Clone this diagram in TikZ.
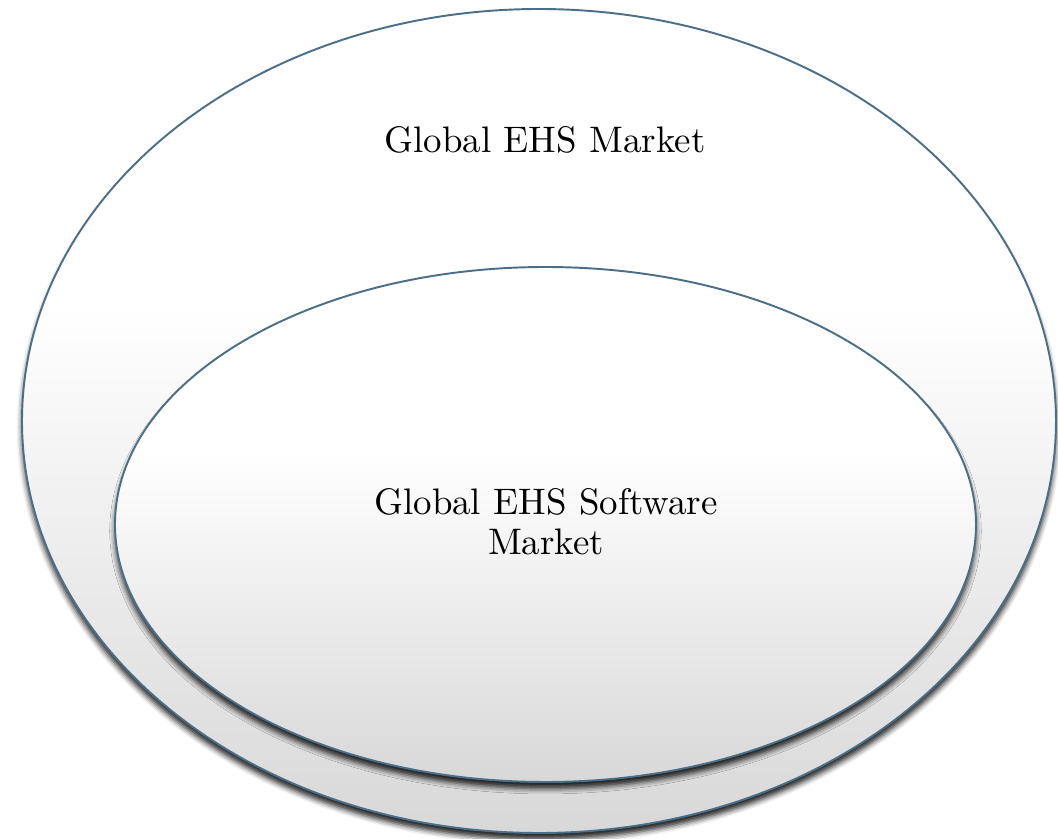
\documentclass[tikz,border=0pt]{standalone}
\usepackage{fontspec}
\usetikzlibrary{shadows.blur}
\definecolor{ehsrand}{RGB}{74,111,135}
\definecolor{ehsgrijs}{RGB}{216,216,216}
\pgfdeclareverticalshading{ehsvul}{100bp}{color(0bp)=(ehsgrijs); color(25bp)=(ehsgrijs); color(57bp)=(white); color(100bp)=(white)}

\begin{document}
\begin{tikzpicture}[line cap=round]
  \tikzset{ellips/.style={draw=ehsrand, line width=0.55pt, shade, shading=ehsvul,
      blur shadow={shadow xshift=0pt, shadow yshift=-1.9pt, shadow blur radius=1.5pt,
        shadow blur extra rounding=0pt, shadow opacity=85}},
    tekst/.style={font=\fontsize{10.5}{11.4}\selectfont, align=center}}
  \useasboundingbox (0,0) rectangle (10.58,8.39);
  % buitenste ellips
  \draw[ellips] (5.39,4.18) ellipse [x radius=5.17, y radius=4.12];
  % binnenste ellips
  \draw[ellips] (5.455,3.145) ellipse [x radius=4.305, y radius=2.575];
  % teksten
  \node[tekst, anchor=base] (markt) at (5.45,6.87) {Global EHS Market};
  \node[tekst] (software) at (5.46,3.17) {Global EHS Software\\Market};
\end{tikzpicture}
\end{document}
